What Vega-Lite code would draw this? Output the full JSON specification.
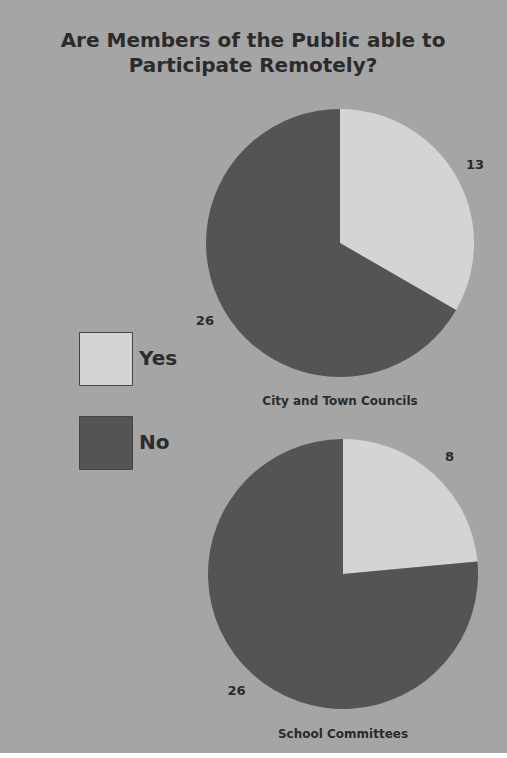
{
  "$schema": "https://vega.github.io/schema/vega-lite/v6.json",
  "background": "#a5a5a5",
  "padding": {"left": 60, "top": 31, "right": 17, "bottom": 13},
  "title": {
    "text": ["Are Members of the Public able to", "Participate Remotely?"],
    "font": "DejaVu Sans", "fontSize": 20, "fontWeight": "bold", "color": "#2b2b2b",
    "lineHeight": 25, "anchor": "middle", "dx": -32, "offset": 27
  },
  "data": {"values": [
    {"body": "City and Town Councils", "answer": "Yes", "count": 13},
    {"body": "City and Town Councils", "answer": "No", "count": 26},
    {"body": "School Committees", "answer": "Yes", "count": 8},
    {"body": "School Committees", "answer": "No", "count": 26}
  ]},
  "vconcat": [
    {
      "width": 290, "height": 280,
      "title": {"text": "City and Town Councils", "orient": "bottom", "font": "DejaVu Sans", "fontSize": 12, "fontWeight": "bold", "color": "#2b2b2b", "offset": 13},
      "transform": [{"filter": "datum.body === 'City and Town Councils'"}],
      "encoding": {
        "theta": {"field": "count", "type": "quantitative", "stack": true},
        "order": {"field": "answer", "sort": "descending"},
        "color": {"field": "answer", "type": "nominal",
          "scale": {"domain": ["Yes", "No"], "range": ["#d4d4d4", "#545454"]},
          "legend": {"title": null, "orient": "none", "legendX": -116, "legendY": 229, "symbolType": "square", "symbolSize": 2809, "symbolStrokeColor": "#444444", "symbolStrokeWidth": 1, "rowPadding": 26, "labelFont": "DejaVu Sans", "labelFontSize": 20, "labelFontWeight": "bold", "labelColor": "#2b2b2b", "labelOffset": 6, "padding": 0}}
      },
      "layer": [
        {"mark": {"type": "arc", "outerRadius": 134}},
        {"mark": {"type": "text", "radius": 156, "font": "DejaVu Sans", "fontSize": 13, "fontWeight": "bold"},
         "encoding": {"text": {"field": "count", "type": "quantitative"}, "color": {"value": "#2b2b2b"}, "detail": {"field": "answer", "type": "nominal"}}}
      ]
    },
    {
      "width": 296, "height": 280,
      "title": {"text": "School Committees", "orient": "bottom", "font": "DejaVu Sans", "fontSize": 12, "fontWeight": "bold", "color": "#2b2b2b", "offset": 15},
      "transform": [{"filter": "datum.body === 'School Committees'"}],
      "encoding": {
        "theta": {"field": "count", "type": "quantitative", "stack": true},
        "order": {"field": "answer", "sort": "descending"},
        "color": {"field": "answer", "type": "nominal",
          "scale": {"domain": ["Yes", "No"], "range": ["#d4d4d4", "#545454"]},
          "legend": {"title": null, "orient": "none", "legendX": -116, "legendY": 229, "symbolType": "square", "symbolSize": 2809, "symbolStrokeColor": "#444444", "symbolStrokeWidth": 1, "rowPadding": 26, "labelFont": "DejaVu Sans", "labelFontSize": 20, "labelFontWeight": "bold", "labelColor": "#2b2b2b", "labelOffset": 6, "padding": 0}}
      },
      "layer": [
        {"mark": {"type": "arc", "outerRadius": 135}},
        {"mark": {"type": "text", "radius": 158, "font": "DejaVu Sans", "fontSize": 13, "fontWeight": "bold"},
         "encoding": {"text": {"field": "count", "type": "quantitative"}, "color": {"value": "#2b2b2b"}, "detail": {"field": "answer", "type": "nominal"}}}
      ]
    }
  ],
  "spacing": 27,
  "resolve": {"scale": {"theta": "independent"}},
  "config": {"view": {"stroke": null}}
}
